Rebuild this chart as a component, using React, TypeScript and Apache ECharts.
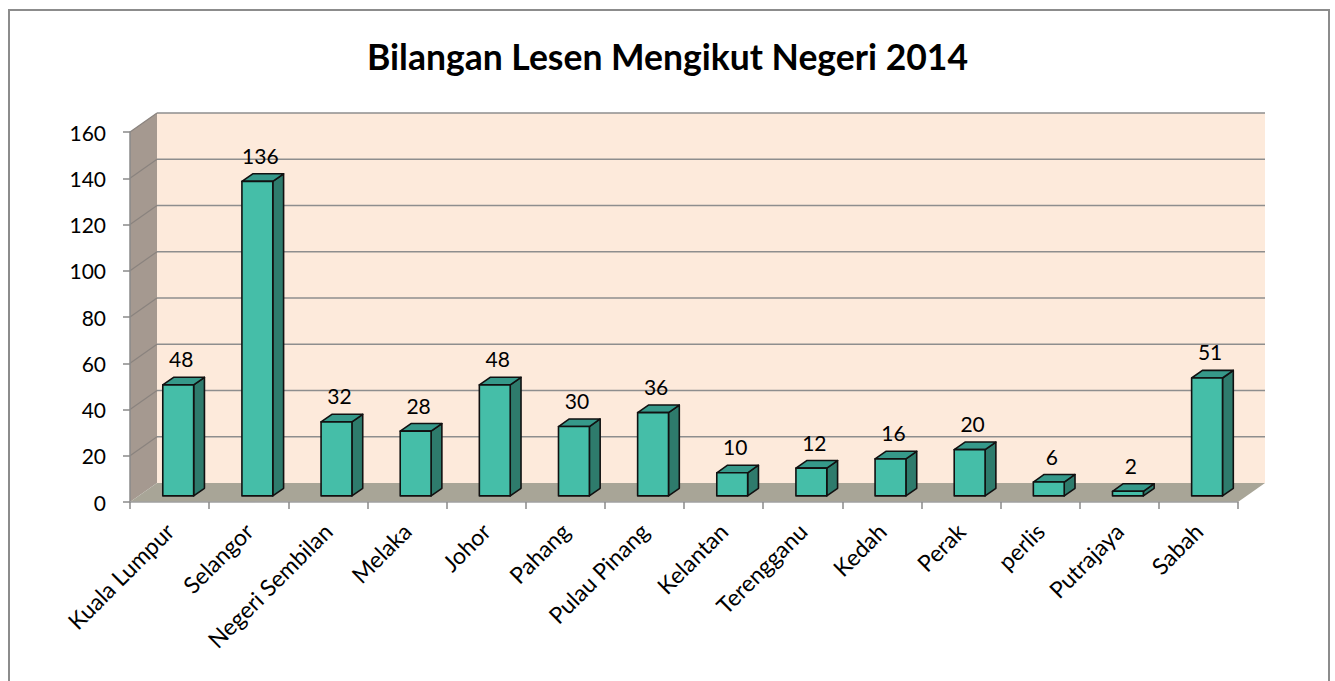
import React, { useEffect, useRef } from "react";
import * as echarts from "echarts";

const categories = [
  "Kuala Lumpur",
  "Selangor",
  "Negeri Sembilan",
  "Melaka",
  "Johor",
  "Pahang",
  "Pulau Pinang",
  "Kelantan",
  "Terengganu",
  "Kedah",
  "Perak",
  "perlis",
  "Putrajaya",
  "Sabah",
];
const values = [48, 136, 32, 28, 48, 30, 36, 10, 12, 16, 20, 6, 2, 51];
const yTickValues = [0, 20, 40, 60, 80, 100, 120, 140, 160];
const titleText = "Bilangan Lesen Mengikut Negeri 2014";

export default function App() {
  const ref = useRef<HTMLDivElement>(null);
  useEffect(() => {
    const chart = echarts.init(ref.current!, null, { renderer: "svg" });
    const DX = 27;
    const DY = -19;
    const FONT = "Lato, 'Open Sans', sans-serif";
    chart.setOption({
      animation: false,
      title: {
        text: titleText,
        left: "center",
        top: 33,
        textStyle: { fontFamily: FONT, fontWeight: "bold", fontSize: 35.5, color: "#000" },
      },
      graphic: [
        {
          type: "rect",
          silent: true,
          z: -10,
          shape: { x: 9, y: 10, width: 1320, height: 700 },
          style: { fill: "none", stroke: "#8c8c8c", lineWidth: 2 },
        },
      ],
      grid: { left: 130, right: 97, top: 132, bottom: 179 },
      xAxis: {
        type: "category",
        data: categories,
        z: 5,
        axisLine: { show: true, lineStyle: { color: "#a0a0a0", width: 1.5 } },
        axisTick: { show: true, length: 7, lineStyle: { color: "#8a8a8a", width: 1.5 } },
        axisLabel: {
          rotate: 45,
          margin: 25,
          fontFamily: FONT,
          fontSize: 23,
          color: "#000",
          interval: 0,
        },
        splitLine: { show: false },
      },
      yAxis: {
        type: "value",
        min: 0,
        max: 160,
        interval: 20,
        z: 5,
        axisLine: { show: true, lineStyle: { color: "#8a8a8a", width: 1.5 } },
        axisTick: { show: true, length: 7, lineStyle: { color: "#8a8a8a", width: 1.5 } },
        axisLabel: { margin: 24, fontFamily: FONT, fontSize: 21, color: "#000" },
        splitLine: { show: false },
      },
      series: [
        {
          type: "custom",
          z: 1,
          silent: true,
          data: [[0, 0]],
          renderItem: (params: any, api: any) => {
            const cs = params.coordSys;
            const x0 = cs.x;
            const x1 = cs.x + cs.width;
            const yTop = cs.y;
            const yBot = cs.y + cs.height;
            const children: any[] = [];
            children.push({
              type: "rect",
              shape: { x: x0 + DX, y: yTop + DY, width: cs.width, height: cs.height },
              style: { fill: "#FDEADB" },
            });
            children.push({
              type: "polygon",
              shape: { points: [[x0, yTop], [x0 + DX, yTop + DY], [x0 + DX, yBot + DY], [x0, yBot]] },
              style: { fill: "#A59990" },
            });
            children.push({
              type: "polygon",
              shape: { points: [[x0, yBot], [x0 + DX, yBot + DY], [x1 + DX, yBot + DY], [x1, yBot]] },
              style: { fill: "#A8A597" },
            });
            yTickValues.forEach((t) => {
              if (t === 0) return;
              const y = api.coord([0, t])[1];
              children.push({
                type: "line",
                shape: { x1: x0 + DX, y1: y + DY, x2: x1 + DX, y2: y + DY },
                style: { stroke: "#8E8E8E", lineWidth: 1.5 },
              });
              children.push({
                type: "line",
                shape: { x1: x0, y1: y, x2: x0 + DX, y2: y + DY },
                style: { stroke: "#8a837e", lineWidth: 1.2 },
              });
            });
            return { type: "group", children };
          },
        },
        {
          type: "custom",
          z: 3,
          data: values.map((v, i) => [i, v]),
          renderItem: (params: any, api: any) => {
            const idx = api.value(0);
            const v = api.value(1);
            const base = api.coord([idx, 0]);
            const top = api.coord([idx, v]);
            const bw = api.size([1, 0])[0];
            const w = bw * 0.39;
            const offX = 0.32 * DX;
            const offY = 0.32 * DY;
            const ddx = 0.4 * DX;
            const ddy = 0.4 * DY;
            const fx0 = base[0] + offX - w / 2;
            const fx1 = fx0 + w;
            const yb = base[1] + offY;
            const yt = top[1] + offY;
            const stroke = { stroke: "#111", lineWidth: 1.6, lineJoin: "round" };
            return {
              type: "group",
              children: [
                {
                  type: "polygon",
                  shape: { points: [[fx1, yb], [fx1 + ddx, yb + ddy], [fx1 + ddx, yt + ddy], [fx1, yt]] },
                  style: { fill: "#2E7B6C", ...stroke },
                },
                {
                  type: "polygon",
                  shape: { points: [[fx0, yt], [fx0 + ddx, yt + ddy], [fx1 + ddx, yt + ddy], [fx1, yt]] },
                  style: { fill: "#36998A", ...stroke },
                },
                {
                  type: "rect",
                  shape: { x: fx0, y: yt, width: w, height: yb - yt },
                  style: { fill: "#45BEA8", ...stroke },
                },
                {
                  type: "text",
                  style: {
                    text: String(v),
                    x: (fx0 + fx1) / 2 + 3,
                    y: yt - 26,
                    align: "center",
                    verticalAlign: "middle",
                    fontFamily: FONT,
                    fontSize: 21,
                    fill: "#000",
                  },
                },
              ],
            };
          },
        },
      ],
    });
    return () => chart.dispose();
  }, []);
  return (
    <div
      ref={ref}
      style={{ position: "absolute", left: 0, top: 0, width: 1335, height: 681, background: "#fff" }}
    />
  );
}
